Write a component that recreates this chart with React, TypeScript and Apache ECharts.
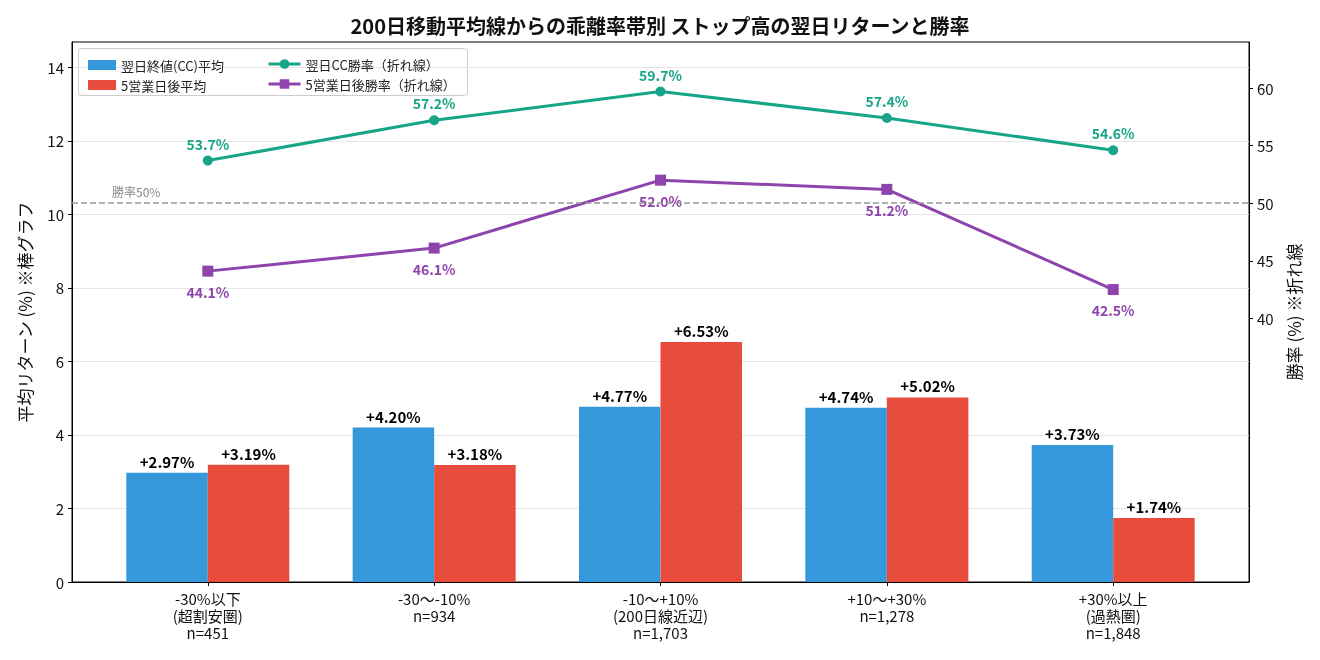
import React, { useEffect, useRef } from "react";
import * as echarts from "echarts";

// category labels (x axis)
const categories = [
  "-30%以下\n(超割安圏)\nn=451",
  "-30〜-10%\nn=934",
  "-10〜+10%\n(200日線近辺)\nn=1,703",
  "+10〜+30%\nn=1,278",
  "+30%以上\n(過熱圏)\nn=1,848",
];

// average returns (%) — bars
const ccAvg = [2.97, 4.2, 4.77, 4.74, 3.73];
const day5Avg = [3.19, 3.18, 6.53, 5.02, 1.74];

// win rates (%) — lines
const ccWin = [53.7, 57.2, 59.7, 57.4, 54.6];
const day5Win = [44.1, 46.1, 52.0, 51.2, 42.5];

const leftTicks = [0, 2, 4, 6, 8, 10, 12, 14];
const rightTicks = [40, 45, 50, 55, 60];

const FONT = "'Noto Sans CJK JP', 'Noto Sans', sans-serif";
const BLUE = "#3498db";
const RED = "#e74c3c";
const GREEN = "#17a589";
const PURPLE = "#8e44ad";

export default function App() {
  const ref = useRef<HTMLDivElement | null>(null);

  useEffect(() => {
    if (!ref.current) return;
    const chart = echarts.init(ref.current, null, { renderer: "svg" });
    const idx = categories.map((_, i) => i);

    const barLabel = {
      show: true,
      position: "top",
      distance: 4,
      formatter: (p: any) => `+${p.value[1].toFixed(2)}%`,
      fontSize: 15,
      fontWeight: "bold",
      color: "#000",
      fontFamily: FONT,
    };

    const option: any = {
      animation: false,
      textStyle: { fontFamily: FONT },
      title: {
        text: "200日移動平均線からの乖離率帯別 ストップ高の翌日リターンと勝率",
        left: "center",
        top: 10,
        textStyle: { fontSize: 20, fontWeight: "bold", color: "#111", fontFamily: FONT },
      },
      grid: {
        left: 72,
        right: 71,
        top: 42,
        bottom: 78,
        show: true,
        borderColor: "#000",
        borderWidth: 1,
        containLabel: false,
      },
      legend: [
        {
          orient: "vertical",
          left: 83,
          top: 53,
          itemWidth: 28,
          itemHeight: 10,
          itemGap: 6,
          icon: "rect",
          textStyle: { fontSize: 13, color: "#222", lineHeight: 14, fontFamily: FONT },
          data: ["翌日終値(CC)平均", "5営業日後平均"],
        },
        {
          orient: "vertical",
          left: 262,
          top: 52,
          itemWidth: 32,
          itemHeight: 12,
          itemGap: 6,
          lineStyle: { width: 3 },
          textStyle: { fontSize: 13, color: "#222", lineHeight: 14, fontFamily: FONT },
          data: ["翌日CC勝率（折れ線）", "5営業日後勝率（折れ線）"],
        },
      ],
      graphic: [
        {
          type: "rect",
          left: 78,
          top: 48,
          z: -1,
          shape: { width: 389, height: 47, r: 3 },
          style: { fill: "rgba(255,255,255,0.85)", stroke: "#cccccc", lineWidth: 1 },
        },
        {
          type: "text",
          left: 112,
          top: 185,
          style: { text: "勝率50%", fontSize: 12, fill: "#888", fontFamily: FONT },
        },
      ],
      xAxis: {
        type: "value",
        min: -0.6,
        max: 4.6,
        splitLine: { show: false },
        axisLine: { onZero: false, lineStyle: { color: "#000", width: 1 } },
        axisTick: { customValues: idx, length: 4, lineStyle: { color: "#000" } },
        axisLabel: {
          customValues: idx,
          formatter: (v: number) => categories[Math.round(v)] ?? "",
          fontSize: 15,
          lineHeight: 17,
          color: "#111",
          margin: 8,
          fontFamily: FONT,
        },
      },
      yAxis: [
        {
          type: "value",
          min: 0,
          max: 14.69,
          interval: 2,
          position: "left",
          name: "平均リターン (%) ※棒グラフ",
          nameLocation: "middle",
          nameGap: 39,
          nameRotate: 90,
          nameTextStyle: { fontSize: 17, color: "#111", fontFamily: FONT },
          axisLine: { show: true, onZero: false, lineStyle: { color: "#000" } },
          axisTick: { show: true, customValues: leftTicks, length: 4, lineStyle: { color: "#000" } },
          axisLabel: { customValues: leftTicks, fontSize: 15, color: "#111", margin: 8, fontFamily: FONT },
          splitLine: { show: true, lineStyle: { color: "#e5e5e5", width: 1 } },
        },
        {
          type: "value",
          min: 17.1,
          max: 64,
          position: "right",
          name: "勝率 (%) ※折れ線",
          nameLocation: "middle",
          nameGap: 36,
          nameRotate: 90,
          nameTextStyle: { fontSize: 17, color: "#111", fontFamily: FONT },
          axisLine: { show: true, onZero: false, lineStyle: { color: "#000" } },
          axisTick: { show: true, customValues: rightTicks, length: 4, lineStyle: { color: "#000" } },
          axisLabel: { customValues: rightTicks, fontSize: 15, color: "#111", margin: 8, fontFamily: FONT },
          splitLine: { show: false },
        },
      ],
      series: [
        {
          name: "翌日終値(CC)平均",
          type: "bar",
          yAxisIndex: 0,
          barWidth: 81.5,
          barGap: "0%",
          itemStyle: { color: BLUE },
          data: idx.map((i) => [i, ccAvg[i]]),
          label: barLabel,
        },
        {
          name: "5営業日後平均",
          type: "bar",
          yAxisIndex: 0,
          barWidth: 81.5,
          barGap: "0%",
          itemStyle: { color: RED },
          data: idx.map((i) => [i, day5Avg[i]]),
          label: barLabel,
        },
        {
          name: "翌日CC勝率（折れ線）",
          type: "line",
          yAxisIndex: 1,
          symbol: "circle",
          symbolSize: 10,
          lineStyle: { color: GREEN, width: 3 },
          itemStyle: { color: GREEN },
          data: idx.map((i) => [i, ccWin[i]]),
          label: {
            show: true,
            position: "top",
            distance: 5,
            formatter: (p: any) => `${p.value[1].toFixed(1)}%`,
            fontSize: 14,
            fontWeight: "bold",
            color: GREEN,
            fontFamily: FONT,
          },
          markLine: {
            silent: true,
            symbol: "none",
            label: { show: false },
            lineStyle: { color: "#999", type: [6, 3], width: 1.5 },
            data: [{ yAxis: 50 }],
          },
        },
        {
          name: "5営業日後勝率（折れ線）",
          type: "line",
          yAxisIndex: 1,
          symbol: "rect",
          symbolSize: 11,
          lineStyle: { color: PURPLE, width: 3 },
          itemStyle: { color: PURPLE },
          data: idx.map((i) => [i, day5Win[i]]),
          label: {
            show: true,
            position: "bottom",
            distance: 8,
            formatter: (p: any) => `${p.value[1].toFixed(1)}%`,
            fontSize: 14,
            fontWeight: "bold",
            color: PURPLE,
            fontFamily: FONT,
          },
        },
      ],
    };

    chart.setOption(option);
    return () => chart.dispose();
  }, []);

  return (
    <div
      ref={ref}
      style={{ position: "fixed", left: 0, top: 0, width: 1320, height: 660 }}
    />
  );
}
